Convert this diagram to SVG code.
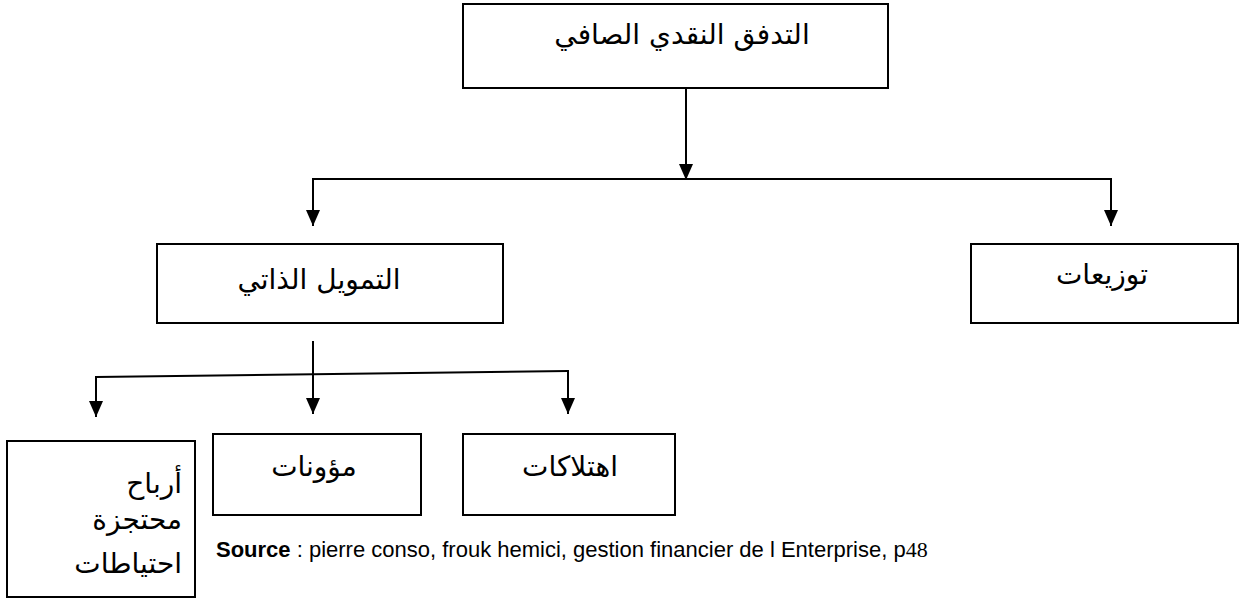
<svg xmlns="http://www.w3.org/2000/svg" width="1239" height="598" viewBox="0 0 1239 598">
<style>
.box{fill:#fff;stroke:#000;stroke-width:2}
.ar{font-family:"DejaVu Sans","Noto Sans",sans-serif;font-size:28px;fill:#000}
.ln{fill:none;stroke:#000;stroke-width:2}
.src{font-family:"Liberation Sans",Arial,sans-serif;font-size:22px;fill:#000}
</style>
<defs>
<marker id="arr" markerUnits="userSpaceOnUse" markerWidth="16" markerHeight="14" viewBox="0 0 16 14" refX="16" refY="7" orient="auto">
<path d="M0,0 L16,7 L0,14 Z" fill="#000"/>
</marker>
</defs>
<rect width="1239" height="598" fill="#fff"/>
<g id="connectors">
<line class="ln" x1="686" y1="88" x2="686" y2="180" marker-end="url(#arr)"/>
<polyline class="ln" points="313,179 1111,179"/>
<line class="ln" x1="313" y1="178" x2="313" y2="226" marker-end="url(#arr)"/>
<line class="ln" x1="1111" y1="178" x2="1111" y2="226" marker-end="url(#arr)"/>
<line class="ln" x1="313" y1="341" x2="313" y2="414" marker-end="url(#arr)"/>
<polyline class="ln" points="96,377 568,371"/>
<line class="ln" x1="96" y1="376" x2="96" y2="417" marker-end="url(#arr)"/>
<line class="ln" x1="568" y1="370" x2="568" y2="414" marker-end="url(#arr)"/>
</g>
<g id="n-net-cash-flow">
<rect class="box" x="463" y="4" width="425" height="84"/>
<text class="ar" x="682" y="44" text-anchor="middle">التدفق النقدي الصافي</text>
</g>
<g id="n-self-financing">
<rect class="box" x="157" y="244" width="346" height="79"/>
<text class="ar" x="319" y="289" text-anchor="middle">التمويل الذاتي</text>
</g>
<g id="n-distributions">
<rect class="box" x="971" y="244" width="267" height="79"/>
<text class="ar" x="1102" y="284" text-anchor="middle">توزيعات</text>
</g>
<g id="n-retained">
<rect class="box" x="7" y="441" width="188" height="156"/>
<text class="ar" x="182" y="493" text-anchor="end">أرباح</text>
<text class="ar" x="182" y="529" text-anchor="end">محتجزة</text>
<text class="ar" x="182" y="573" text-anchor="end">احتياطات</text>
</g>
<g id="n-provisions">
<rect class="box" x="213" y="434" width="208" height="81"/>
<text class="ar" x="314" y="476" text-anchor="middle">مؤونات</text>
</g>
<g id="n-depreciation">
<rect class="box" x="463" y="434" width="212" height="81"/>
<text class="ar" x="570" y="476" text-anchor="middle">اهتلاكات</text>
</g>
<text class="src" x="216" y="557"><tspan font-weight="bold">Source</tspan> : pierre conso, frouk hemici, gestion financier de l Enterprise, p<tspan font-family="Liberation Serif, serif">48</tspan></text>
</svg>
